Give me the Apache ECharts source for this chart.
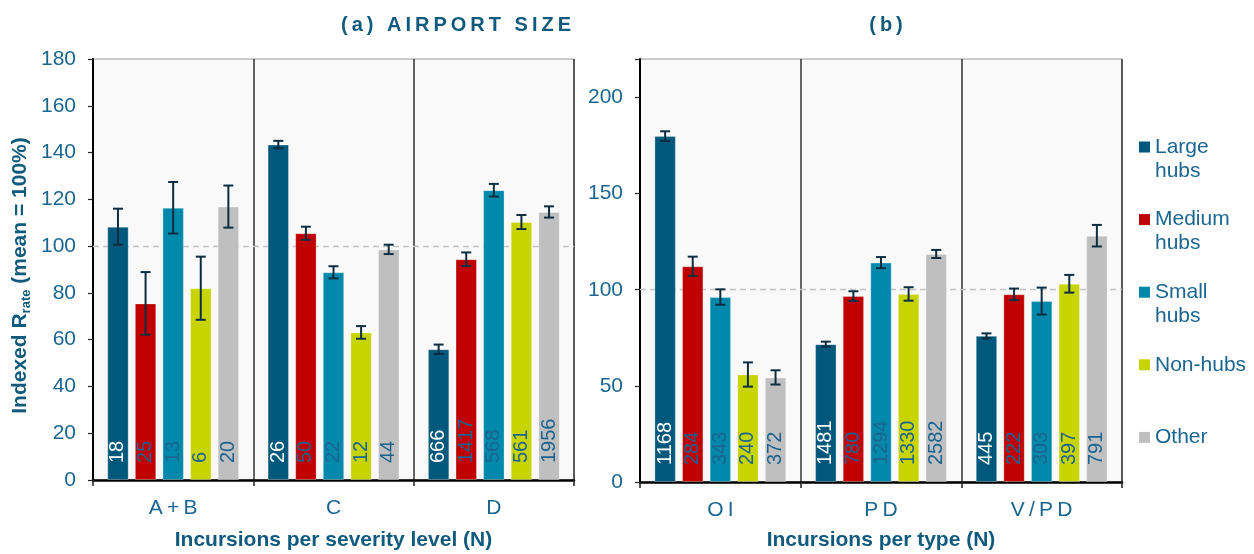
<!DOCTYPE html>
<html>
<head>
<meta charset="utf-8">
<title>Indexed incursion rates by airport size</title>
<script src="https://cdn.jsdelivr.net/npm/echarts@6/dist/echarts.min.js"></script>
<style>
  html, body { margin: 0; padding: 0; background: #ffffff; }
  #chart { width: 1254px; height: 554px; }
</style>
</head>
<body>
<div id="chart"></div>
<script>
// ---- data ----
const hubTypes = ['Large hubs', 'Medium hubs', 'Small hubs', 'Non-hubs', 'Other'];
const severityLevels = ['A+B', 'C', 'D'];
const incursionTypes = ['OI', 'PD', 'V/PD'];
const yTicksSeverity = [0, 20, 40, 60, 80, 100, 120, 140, 160, 180];
const yTicksType = [0, 50, 100, 150, 200];

// (a) indexed rate per severity level: A+B, C, D
const sevLarge = [108.3, 143.4, 55.9];
const sevMedium = [75.5, 105.5, 94.4];
const sevSmall = [116.4, 88.8, 123.9];
const sevNonHub = [82.0, 63.1, 110.3];
const sevOther = [116.9, 98.6, 114.6];
// half-widths of the error bars
const sevLargeErr = [7.7, 1.6, 2.0];
const sevMediumErr = [13.4, 2.8, 2.9];
const sevSmallErr = [11.0, 2.6, 2.7];
const sevNonHubErr = [13.5, 2.7, 3.0];
const sevOtherErr = [9.0, 2.0, 2.4];
// incursion counts (N)
const sevLargeN = [18, 26, 666];
const sevMediumN = [25, 50, 1417];
const sevSmallN = [13, 22, 568];
const sevNonHubN = [6, 12, 561];
const sevOtherN = [20, 44, 1956];

// (b) indexed rate per incursion type: OI, PD, V/PD
const typeLarge = [179.9, 71.7, 76.0];
const typeMedium = [112.2, 96.7, 97.6];
const typeSmall = [96.2, 114.1, 94.1];
const typeNonHub = [55.9, 97.8, 103.1];
const typeOther = [54.4, 118.6, 128.1];
const typeLargeErr = [2.5, 1.3, 1.3];
const typeMediumErr = [5.0, 2.5, 3.0];
const typeSmallErr = [4.0, 2.9, 7.0];
const typeNonHubErr = [6.3, 3.5, 4.6];
const typeOtherErr = [3.7, 2.1, 5.6];
const typeLargeN = [1168, 1481, 445];
const typeMediumN = [284, 780, 222];
const typeSmallN = [343, 1294, 303];
const typeNonHubN = [240, 1330, 397];
const typeOtherN = [372, 2582, 791];

const meanLevel = 100;

// ---- styling ----
const FONT = '"Liberation Sans", Arial, Helvetica, sans-serif';
const INK = '#0f5a7d';
const TICK_INK = '#1a6690';
const hubColors = ['#00587c', '#c00000', '#0089ab', '#c8d400', '#bfbfbf'];
const labelColors = ['#ffffff', '#1b6391', '#1b6391', '#1b6391', '#1b6391'];
const BAR_W = 21.4;
const BAR_GAP = 6.2;
const PITCH = BAR_W + BAR_GAP;

const spaced = s => s.split('').join('\u2009');

const panels = [
  {
    cats: severityLevels, max: 180, interval: 20, ticks: yTicksSeverity,
    values: [sevLarge, sevMedium, sevSmall, sevNonHub, sevOther],
    errors: [sevLargeErr, sevMediumErr, sevSmallErr, sevNonHubErr, sevOtherErr],
    counts: [sevLargeN, sevMediumN, sevSmallN, sevNonHubN, sevOtherN],
    axisName: 'Incursions per severity level (N)', nameGap: 50
  },
  {
    cats: incursionTypes, max: 220, interval: 50, ticks: yTicksType,
    values: [typeLarge, typeMedium, typeSmall, typeNonHub, typeOther],
    errors: [typeLargeErr, typeMediumErr, typeSmallErr, typeNonHubErr, typeOtherErr],
    counts: [typeLargeN, typeMediumN, typeSmallN, typeNonHubN, typeOtherN],
    axisName: 'Incursions per type (N)', nameGap: 48
  }
];

const grids = [
  { left: 93, top: 59, width: 481, height: 421 },
  { left: 640, top: 59, width: 482, height: 423 }
];

const xAxes = panels.map((p, k) => ({
  type: 'category',
  gridIndex: k,
  data: p.cats,
  name: p.axisName,
  nameLocation: 'middle',
  nameGap: p.nameGap,
  nameMoveOverlap: false,
  nameTextStyle: { fontFamily: FONT, fontSize: 21, fontWeight: 'bold', color: INK },
  axisLine: { show: true, lineStyle: { color: '#000', width: 2.5 } },
  axisTick: { show: true, alignWithLabel: false, length: 6, lineStyle: { color: '#222', width: 1.5 } },
  axisLabel: { margin: 18, fontFamily: FONT, fontSize: 21, color: TICK_INK, formatter: v => spaced(v) },
  splitLine: { show: true, lineStyle: { color: '#333', width: 1.5 } }
}));

const yAxes = panels.map((p, k) => ({
  type: 'value',
  gridIndex: k,
  min: 0,
  max: p.max,
  interval: p.interval,
  name: k === 0 ? '{m|Indexed R}{s|rate}{m| (mean = 100%)}' : '',
  nameLocation: 'middle',
  nameGap: 60,
  nameMoveOverlap: false,
  nameTextStyle: {
    padding: [0, 12, 0, 0],
    rich: {
      m: { fontFamily: FONT, fontSize: 21, fontWeight: 'bold', color: INK, lineHeight: 26, verticalAlign: 'middle' },
      s: { fontFamily: FONT, fontSize: 13, fontWeight: 'bold', color: INK, lineHeight: 14, verticalAlign: 'bottom' }
    }
  },
  axisLine: { show: true, lineStyle: { color: '#000', width: 2 } },
  axisTick: { show: true, length: 5, lineStyle: { color: '#222', width: 1.2 } },
  axisLabel: {
    margin: 17, fontFamily: FONT, fontSize: 21, color: TICK_INK,
    formatter: v => (p.ticks.indexOf(v) >= 0 ? String(v) : '')
  },
  splitLine: { show: false }
}));

const series = [];
panels.forEach((p, k) => {
  // dashed reference line at the mean, kept behind the bars
  series.push({
    type: 'line', xAxisIndex: k, yAxisIndex: k, data: [], silent: true,
    markLine: {
      z: 1, silent: true, symbol: ['none', 'none'], label: { show: false },
      lineStyle: { color: '#c4c4c4', type: [6, 4], width: 1.3 },
      data: [{ yAxis: meanLevel }]
    }
  });
  hubTypes.forEach((name, i) => {
    const counts = p.counts[i];
    series.push({
      type: 'bar', name, xAxisIndex: k, yAxisIndex: k, z: 2,
      data: p.values[i],
      barWidth: BAR_W, barGap: (BAR_GAP / BAR_W * 100).toFixed(1) + '%',
      itemStyle: { color: hubColors[i], borderColor: 'rgba(255,255,255,0.28)', borderWidth: 1 },
      label: {
        show: true, position: 'insideBottom', rotate: 90, align: 'left', verticalAlign: 'middle',
        distance: 17, fontFamily: FONT, fontSize: 20, color: labelColors[i],
        formatter: prm => String(counts[prm.dataIndex])
      },
      emphasis: { disabled: true }
    });
    const offset = (i - 2) * PITCH;
    series.push({
      type: 'custom', name, xAxisIndex: k, yAxisIndex: k, z: 3, silent: true,
      data: p.values[i].map((v, j) => [j, v, p.errors[i][j]]),
      encode: { x: 0, y: 1 },
      renderItem: (params, api) => {
        const c = api.value(0), v = api.value(1), e = api.value(2);
        const hi = api.coord([c, v + e]);
        const lo = api.coord([c, v - e]);
        const x = hi[0] + offset;
        const cap = 5;
        const st = { stroke: '#0d2d40', lineWidth: 2 };
        return {
          type: 'group',
          children: [
            { type: 'line', shape: { x1: x, y1: hi[1], x2: x, y2: lo[1] }, style: st },
            { type: 'line', shape: { x1: x - cap, y1: hi[1], x2: x + cap, y2: hi[1] }, style: st },
            { type: 'line', shape: { x1: x - cap, y1: lo[1], x2: x + cap, y2: lo[1] }, style: st }
          ]
        };
      }
    });
  });
});

// legend entries: three text rows each, the name on the row beside the swatch
const legendText = n => {
  const parts = n.split(' ');
  return parts.length > 1 ? '\n' + parts.join('\n') : '\n' + n + '\n';
};

const chart = echarts.init(document.getElementById('chart'), null, { renderer: 'canvas' });
chart.setOption({
  animation: false,
  backgroundColor: '#ffffff',
  textStyle: { fontFamily: FONT },
  title: [
    { text: spaced('(a) AIRPORT SIZE'), left: 451, top: 10, textAlign: 'center',
      textStyle: { fontFamily: FONT, fontSize: 20, fontWeight: 'bold', color: INK } },
    { text: spaced('(b)'), left: 881, top: 10, textAlign: 'center',
      textStyle: { fontFamily: FONT, fontSize: 20, fontWeight: 'bold', color: INK } }
  ],
  legend: {
    orient: 'vertical', left: 1139, top: 111, padding: 0,
    itemWidth: 11, itemHeight: 11, itemGap: 0.6, icon: 'rect',
    itemStyle: { borderWidth: 0 },
    formatter: legendText,
    textStyle: { fontFamily: FONT, fontSize: 21, color: TICK_INK, lineHeight: 24 },
    data: hubTypes
  },
  grid: grids.map(g => Object.assign({
    show: true, backgroundColor: '#f9f9f9', borderColor: '#9a9a9a', borderWidth: 1,
    containLabel: false, outerBoundsMode: 'none'
  }, g)),
  xAxis: xAxes,
  yAxis: yAxes,
  series
});
</script>
</body>
</html>
